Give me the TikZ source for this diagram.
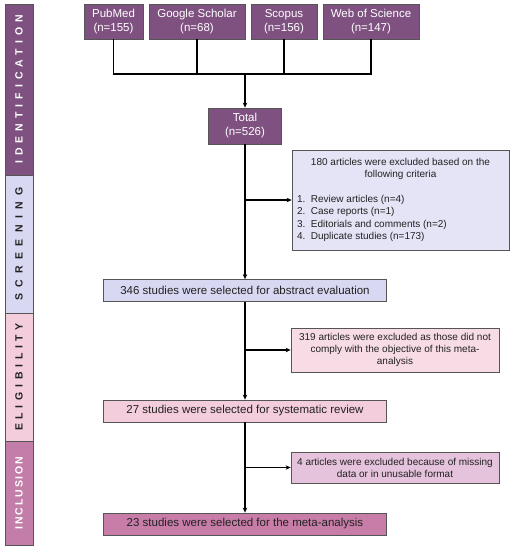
\documentclass[tikz,border=0pt]{standalone}
\usepackage{fontspec}
\setmainfont{Liberation Sans}
\newfontfamily\barfont{Liberation Sans}
\usetikzlibrary{arrows.meta}
\definecolor{idc}{HTML}{7E5180}
\definecolor{scc}{HTML}{D8D8F2}
\definecolor{scl}{HTML}{E4E4F6}
\definecolor{elc}{HTML}{F3CDDB}
\definecolor{ell}{HTML}{F8DCE5}
\definecolor{inc}{HTML}{C27EA9}
\definecolor{inl}{HTML}{E6C3DC}
\definecolor{inb}{HTML}{C77DA8}
\definecolor{bord}{HTML}{555555}
\definecolor{txt}{HTML}{222222}
\tikzset{
  bar/.style={draw=bord, line width=0.8pt, rotate=90, inner sep=0pt, minimum height=28pt, font=\barfont\bfseries\fontsize{10.5}{12}\selectfont},
  src/.style={draw=bord, line width=0.8pt, fill=idc, text=white, align=center, inner sep=0pt, minimum height=35pt, font=\fontsize{11.5}{14}\selectfont},
  stage/.style={draw=bord, line width=0.8pt, text=txt, inner sep=0pt, minimum width=283pt, minimum height=22pt, font=\fontsize{11.5}{13}\selectfont},
  excl/.style={draw=bord, line width=0.8pt, text=txt, align=center, inner sep=0pt, font=\fontsize{10}{12}\selectfont},
  conn/.style={line width=1.5pt, black},
  arr/.style={conn, -{Stealth[length=5pt,width=4.5pt]}}
}
\begin{document}
\begin{tikzpicture}[x=1pt,y=-1pt]
\useasboundingbox (0,0) rectangle (513,550);
% side bars
\node[bar, fill=idc, text=white, minimum width=171pt] (bi) at (19,89.5) {\addfontfeature{LetterSpace=48}IDENTIFICATION\hspace{8pt}};
\node[bar, fill=scc, text=txt, minimum width=138pt] (bs) at (19,244) {\addfontfeature{LetterSpace=60}SCREENING\hspace{8pt}};
\node[bar, fill=elc, text=txt, minimum width=128pt] (be) at (19,377) {\addfontfeature{LetterSpace=45}ELIGIBILITY\hspace{13pt}};
\node[bar, fill=inc, text=white, minimum width=104pt] (bn) at (19,493) {\addfontfeature{LetterSpace=18}INCLUSION};
% sources
\node[src, minimum width=59pt] (pub) at (113.5,21.5) {PubMed\\(n=155)};
\node[src, minimum width=96pt] (gs) at (197,21.5) {Google Scholar\\(n=68)};
\node[src, minimum width=66pt] (sco) at (284,21.5) {Scopus\\(n=156)};
\node[src, minimum width=96pt] (wos) at (371,21.5) {Web of Science\\(n=147)};
\coordinate (j) at (245,74);
\node[src, minimum width=73pt, minimum height=36pt] (tot) at (245,126) {Total\\(n=526)};
% stages
\node[stage, fill=scc] (s1) at (245,290.5) {346 studies were selected for abstract evaluation};
\node[stage, fill=elc] (s2) at (245,411) {27 studies were selected for systematic review};
\node[stage, fill=inb] (s3) at (245,524) {23 studies were selected for the meta-analysis};
% exclusions
\node[excl, fill=scl, minimum width=217pt, minimum height=100pt] (e1) at (400.5,200) {\begin{minipage}{207pt}\fontsize{10}{12.5}\selectfont\centering 180 articles were excluded based on the\\following criteria\par\vspace{12pt}\raggedright 1.\ \ Review articles (n=4)\\2.\ \ Case reports (n=1)\\3.\ \ Editorials and comments (n=2)\\4.\ \ Duplicate studies (n=173)\par\end{minipage}};
\node[excl, fill=ell, minimum width=208pt, minimum height=44pt] (e2) at (395,350) {319 articles were excluded as those did not\\comply with the objective of this meta-\\analysis};
\node[excl, fill=inl, minimum width=208pt, minimum height=31pt] (e3) at (395,467.5) {4 articles were excluded because of missing\\data or in unusable format};
% connectors
\draw[conn] (pub.south) |- (j);
\draw[conn] (gs.south) |- (j);
\draw[conn] (sco.south) |- (j);
\draw[conn] (wos.south) |- (j);
\draw[arr] (j) -- (tot.north);
\draw[arr] (tot.south) -- (s1.north);
\draw[arr] (tot.south |- e1.west) -- (e1.west);
\draw[arr] (s1.south) -- (s2.north);
\draw[arr] (s1.south |- e2.west) -- (e2.west);
\draw[arr] (s2.south) -- (s3.north);
\draw[arr] (s2.south |- e3.west) -- (e3.west);
\end{tikzpicture}
\end{document}
